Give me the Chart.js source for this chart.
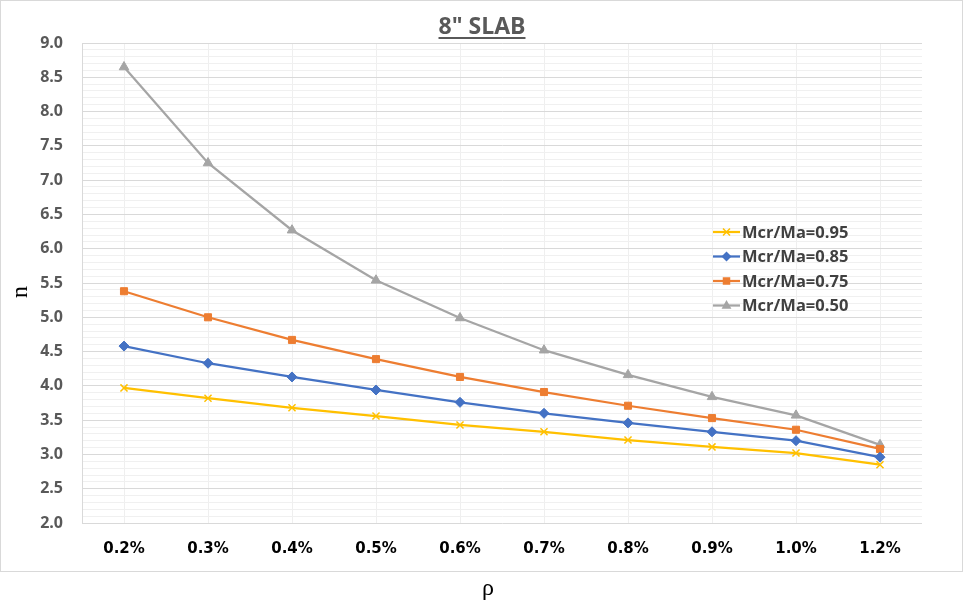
<!DOCTYPE html>
<html>
<head>
<meta charset="utf-8">
<script src="https://cdn.jsdelivr.net/npm/chart.js@4.4.1/dist/chart.umd.min.js"></script>
<style>
html,body{margin:0;padding:0;background:#fff;}
#wrap{width:965px;height:613px;}
</style>
</head>
<body>
<div id="wrap"><canvas id="c" width="965" height="613"></canvas></div>
<script>
const titleText = '8" SLAB';
const xTitle = 'ρ';
const yTitle = 'n';
const categories = ['0.2%','0.3%','0.4%','0.5%','0.6%','0.7%','0.8%','0.9%','1.0%','1.2%'];
const seriesLabels = ['Mcr/Ma=0.95','Mcr/Ma=0.85','Mcr/Ma=0.75','Mcr/Ma=0.50'];
const s095 = [3.97,3.82,3.68,3.56,3.43,3.33,3.21,3.11,3.02,2.85];
const s085 = [4.58,4.33,4.13,3.94,3.76,3.60,3.46,3.33,3.20,2.96];
const s075 = [5.38,5.00,4.67,4.39,4.13,3.91,3.71,3.53,3.36,3.08];
const s050 = [8.65,7.25,6.27,5.54,4.99,4.52,4.16,3.84,3.57,3.14];
const yMin = 2.0, yMax = 9.0, yStep = 0.1, yMajor = 0.5;

const colors = ['#FFC000','#4472C4','#ED7D31','#A5A5A5'];
const styles = ['crossRot','rectRot','rect','triangle'];
const radii = [5,5,5,5.5];
const allData = [s095,s085,s075,s050];

const datasets = allData.map((d,i)=>({
  label: seriesLabels[i],
  data: d,
  borderColor: colors[i],
  backgroundColor: colors[i],
  borderWidth: 2.25,
  pointStyle: styles[i],
  pointRadius: radii[i],
  pointBorderWidth: i===0 ? 1.5 : 1,
  pointBorderColor: colors[i],
  pointBackgroundColor: colors[i],
  tension: 0,
  fill: false
}));

function drawMarker(ctx, style, x, y, r, color){
  ctx.save();
  ctx.fillStyle = color; ctx.strokeStyle = color; ctx.lineWidth = 1.5;
  ctx.beginPath();
  if(style==='crossRot'){
    ctx.moveTo(x-r*0.7,y-r*0.7); ctx.lineTo(x+r*0.7,y+r*0.7);
    ctx.moveTo(x+r*0.7,y-r*0.7); ctx.lineTo(x-r*0.7,y+r*0.7);
    ctx.stroke();
  } else if(style==='rectRot'){
    ctx.moveTo(x,y-r); ctx.lineTo(x+r,y); ctx.lineTo(x,y+r); ctx.lineTo(x-r,y); ctx.closePath(); ctx.fill();
  } else if(style==='rect'){
    const s=r*0.75; ctx.rect(x-s,y-s,2*s,2*s); ctx.fill();
  } else {
    ctx.moveTo(x,y-r); ctx.lineTo(x+r*0.9,y+r*0.6); ctx.lineTo(x-r*0.9,y+r*0.6); ctx.closePath(); ctx.fill();
  }
  ctx.restore();
}

const decor = {
  id:'decor',
  beforeDraw(chart){
    const ctx = chart.ctx;
    ctx.save();
    ctx.fillStyle='#fff'; ctx.fillRect(0,0,chart.width,chart.height);
    ctx.strokeStyle='#d9d9d9'; ctx.lineWidth=1;
    ctx.strokeRect(0.5,0.5,962,571);
    ctx.restore();
  },
  afterDraw(chart){
    const ctx = chart.ctx, a = chart.chartArea;
    ctx.save();
    // title
    ctx.font = 'bold 23px "Open Sans"';
    ctx.fillStyle = '#595959';
    ctx.textAlign='center'; ctx.textBaseline='alphabetic';
    const tx = 482, ty = 34;
    ctx.fillText(titleText, tx, ty);
    const tw = ctx.measureText(titleText).width;
    ctx.strokeStyle='#595959'; ctx.lineWidth=2;
    ctx.beginPath(); ctx.moveTo(tx-tw/2, ty+4); ctx.lineTo(tx+tw/2, ty+4); ctx.stroke();
    // axis titles
    ctx.fillStyle='#000';
    ctx.font = '24px "Liberation Serif"';
    ctx.textBaseline='middle';
    ctx.fillText(xTitle, 488, 589);
    ctx.save();
    ctx.translate(21, 292); ctx.rotate(-Math.PI/2);
    ctx.fillText(yTitle, 0, 0);
    ctx.restore();
    // legend
    const lx = a.right - 209, ly0 = 232, dy = 24.5;
    ctx.font = 'bold 16.5px "Open Sans"';
    ctx.textAlign='left'; ctx.textBaseline='middle';
    chart.data.datasets.forEach((ds,i)=>{
      const y = ly0 + i*dy;
      ctx.strokeStyle = ds.borderColor; ctx.lineWidth = 2.25;
      ctx.beginPath(); ctx.moveTo(lx, y); ctx.lineTo(lx+27, y); ctx.stroke();
      drawMarker(ctx, ds.pointStyle, lx+13.5, y, ds.pointRadius, ds.borderColor);
      ctx.fillStyle = '#404040';
      ctx.fillText(ds.label, lx+29, y+1);
    });
    ctx.restore();
  }
};

new Chart(document.getElementById('c'), {
  type:'line',
  data:{ labels: categories, datasets },
  options:{
    responsive:false,
    animation:false,
    devicePixelRatio:1,
    layout:{ padding:{ left:0, right:43, top:43, bottom:0 } },
    plugins:{ legend:{display:false}, title:{display:false}, tooltip:{enabled:false} },
    scales:{
      x:{
        offset:true,
        grid:{ offset:false, color:'#efefef', drawTicks:false },
        border:{ display:false },
        ticks:{ color:'#000', font:{ family:'DejaVu Sans', weight:'bold', size:15 }, padding:17, maxRotation:0, autoSkip:false },
        afterFit(s){ s.height = 90; }
      },
      y:{
        min:yMin, max:yMax,
        grid:{
          drawTicks:false,
          color(ctx){
            const v = Math.round(ctx.tick.value*10);
            return (v % Math.round(yMajor*10) === 0) ? '#d9d9d9' : '#f0f0f0';
          }
        },
        border:{ display:true, color:'#d9d9d9' },
        ticks:{
          stepSize:yStep, autoSkip:false, padding:19, color:'#595959',
          font:{ family:'Open Sans', weight:'bold', size:16 },
          callback(v){
            const t = Math.round(v*10);
            return (t % Math.round(yMajor*10) === 0) ? (t/10).toFixed(1) : '';
          }
        },
        afterFit(s){ s.width = 82; }
      }
    }
  },
  plugins:[decor]
});
</script>
</body>
</html>
